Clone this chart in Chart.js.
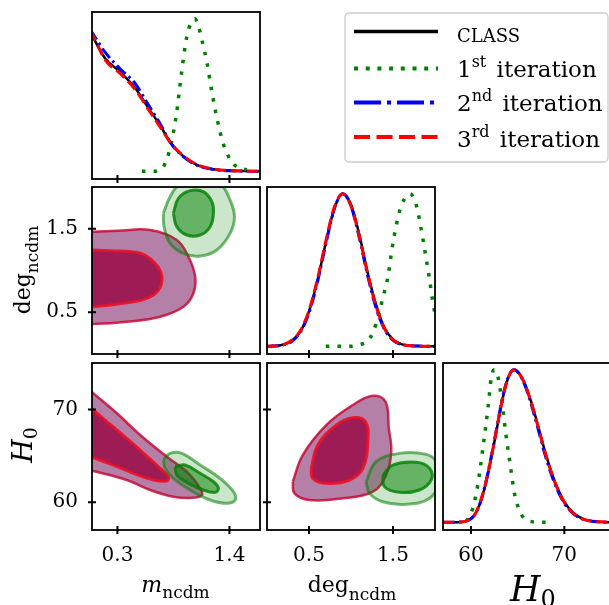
<!DOCTYPE html>
<html>
<head>
<meta charset="utf-8">
<script src="https://cdn.jsdelivr.net/npm/chart.js@4/dist/chart.umd.min.js"></script>
<style>
body { margin: 0; background: #fff; }
#fig { position: relative; width: 609px; height: 605px; overflow: hidden; background: #fff; }
#fig canvas { position: absolute; }
#fig svg { position: absolute; left: 0; top: 0; pointer-events: none; }
</style>
</head>
<body>
<div id="fig">
<svg width="609" height="605" font-family="DejaVu Serif" fill="#000">
  <!-- axis titles -->
  <text x="175.5" y="591.5" text-anchor="middle" font-size="22"><tspan font-style="italic">m</tspan><tspan font-size="17" dy="6">ncdm</tspan></text>
  <text x="352" y="591.5" text-anchor="middle" font-size="22">deg<tspan font-size="17" dy="8">ncdm</tspan></text>
  <text x="510" y="601" font-size="35"><tspan font-style="italic">H</tspan><tspan font-size="24" dy="6">0</tspan></text>
  <text transform="translate(30,270) rotate(-90)" text-anchor="middle" font-size="22">deg<tspan font-size="17" dy="8">ncdm</tspan></text>
  <text transform="translate(32,445) rotate(-90)" text-anchor="middle" font-size="27"><tspan font-style="italic">H</tspan><tspan font-size="19" dy="5">0</tspan></text>
  <!-- legend -->
  <rect x="345" y="13" width="263" height="149" rx="4" fill="#fff" stroke="#ccc" stroke-width="1.3"/>
  <line x1="354" y1="31.5" x2="438" y2="31.5" stroke="#000" stroke-width="3.5"/>
  <line x1="354" y1="68.5" x2="438" y2="68.5" stroke="#008000" stroke-width="4" stroke-dasharray="4 7.7"/>
  <line x1="354" y1="102.5" x2="438" y2="102.5" stroke="#0000ff" stroke-width="4" stroke-dasharray="27 6 4 6"/>
  <line x1="354" y1="137" x2="438" y2="137" stroke="#ff0000" stroke-width="4" stroke-dasharray="16 6.5"/>
  <text x="457" y="41.5" font-size="18">CLASS</text>
  <text x="457" y="76.5" font-size="23">1<tspan font-size="16" dy="-10">st</tspan><tspan dy="10" dx="3"> iteration</tspan></text>
  <text x="457" y="110.5" font-size="23">2<tspan font-size="16" dy="-10">nd</tspan><tspan dy="10" dx="3"> iteration</tspan></text>
  <text x="457" y="146.5" font-size="23">3<tspan font-size="16" dy="-10">rd</tspan><tspan dy="10" dx="3"> iteration</tspan></text>
</svg>
</div>
<script>
// ---- 1D posteriors (peak normalised to 1) ----
const mGrid  = [0.03, 0.06, 0.18, 0.33, 0.47, 0.60, 0.72, 0.83, 0.95, 1.08, 1.24, 1.41, 1.72];
const mClass = [0.92, 0.88, 0.74, 0.65, 0.55, 0.42, 0.30, 0.18, 0.097, 0.042, 0.014, 0.005, 0];
const mIter2 = [0.93, 0.90, 0.78, 0.67, 0.58, 0.44, 0.31, 0.18, 0.095, 0.040, 0.013, 0.004, 0];
const mIter3 = [0.92, 0.89, 0.73, 0.64, 0.54, 0.41, 0.29, 0.18, 0.10, 0.045, 0.015, 0.005, 0];
const mGrid1 = [0.54, 0.65, 0.75, 0.82, 0.88, 0.93, 0.98, 1.02, 1.06, 1.10, 1.13, 1.18, 1.23, 1.28, 1.34, 1.41, 1.47, 1.57];
const mIter1 = [0, 0, 0.03, 0.16, 0.38, 0.65, 0.88, 0.97, 1.0, 0.94, 0.86, 0.71, 0.51, 0.34, 0.18, 0.075, 0.03, 0.01];

const degGrid  = [0, 0.2, 0.3, 0.4, 0.5, 0.6, 0.7, 0.8, 0.9, 1.0, 1.1, 1.2, 1.3, 1.4, 1.5, 1.6, 1.8, 2.0];
const degClass = [0, 0.012, 0.04, 0.10, 0.23, 0.43, 0.68, 0.90, 1.0, 0.93, 0.73, 0.48, 0.27, 0.12, 0.045, 0.015, 0.002, 0];
const degIter2 = [0, 0.010, 0.035, 0.095, 0.22, 0.42, 0.67, 0.90, 1.0, 0.92, 0.71, 0.46, 0.25, 0.11, 0.040, 0.013, 0.002, 0];
const degIter3 = [0, 0.012, 0.042, 0.105, 0.235, 0.44, 0.69, 0.91, 1.0, 0.92, 0.72, 0.47, 0.26, 0.115, 0.043, 0.014, 0.002, 0];
const degGrid1 = [0.70, 0.98, 1.10, 1.22, 1.30, 1.38, 1.44, 1.50, 1.58, 1.64, 1.705, 1.78, 1.835, 1.875, 1.935, 1.98, 2.05];
const degIter1 = [0, 0, 0.01, 0.05, 0.15, 0.32, 0.46, 0.68, 0.89, 0.97, 1.0, 0.92, 0.77, 0.64, 0.44, 0.27, 0.12];

const hGrid  = [57, 59, 60, 60.5, 61, 61.5, 62, 62.5, 63, 63.5, 64, 64.6, 65.2, 65.8, 66.5, 67.2, 68, 69, 70, 71, 72, 73, 75];
const hClass = [0, 0.003, 0.025, 0.06, 0.13, 0.235, 0.37, 0.525, 0.69, 0.84, 0.95, 1.0, 0.975, 0.906, 0.78, 0.63, 0.45, 0.265, 0.135, 0.06, 0.023, 0.008, 0];
const hIter2 = [0, 0.003, 0.024, 0.058, 0.13, 0.24, 0.38, 0.535, 0.70, 0.85, 0.955, 1.0, 0.97, 0.895, 0.765, 0.61, 0.43, 0.25, 0.125, 0.055, 0.02, 0.007, 0];
const hIter3 = [0, 0.003, 0.026, 0.062, 0.135, 0.24, 0.375, 0.53, 0.695, 0.845, 0.952, 1.0, 0.972, 0.90, 0.775, 0.625, 0.445, 0.26, 0.13, 0.058, 0.022, 0.008, 0];
const hGrid1 = [59.5, 60.2, 60.74, 61.28, 61.82, 62.18, 62.5, 62.72, 63.26, 63.69, 64.15, 64.69, 65.41, 66.48, 68.27];
const hIter1 = [0.005, 0.095, 0.25, 0.49, 0.75, 0.95, 1.0, 0.99, 0.82, 0.60, 0.40, 0.18, 0.05, 0.005, 0];

// ---- 2D contours [x, y], 68% (inner) and 95% (outer) ----
const mDegOuter = [[-0.1,1.46],[0.064,1.465],[0.3,1.475],[0.621,1.485],[0.883,1.365],[0.997,1.165],[1.063,0.926],[1.046,0.727],[0.948,0.566],[0.719,0.447],[0.392,0.387],[0.064,0.359],[-0.1,0.35],[-0.1,1.46]];
const mDegInner = [[-0.1,1.25],[0.064,1.245],[0.228,1.237],[0.523,1.206],[0.670,1.086],[0.736,0.926],[0.703,0.766],[0.588,0.667],[0.359,0.607],[0.064,0.567],[-0.1,0.56],[-0.1,1.25]];
const mDegOuter1 = [[0.751,1.685],[0.817,1.884],[0.915,2.04],[1.10,2.12],[1.308,2.04],[1.406,1.844],[1.449,1.644],[1.406,1.445],[1.276,1.246],[1.112,1.174],[0.948,1.206],[0.817,1.326],[0.758,1.525],[0.751,1.685]];
const mDegInner1 = [[0.849,1.685],[0.899,1.865],[1.014,1.956],[1.144,1.944],[1.227,1.824],[1.243,1.685],[1.210,1.525],[1.112,1.425],[0.981,1.425],[0.883,1.525],[0.849,1.685]];

const mHOuter = [[-0.1,73.3],[0.064,71.73],[0.294,69.58],[0.523,67.24],[0.785,64.9],[0.981,63.28],[1.112,61.49],[1.129,60.77],[1.046,60.48],[0.850,60.59],[0.621,61.31],[0.392,62.39],[0.064,63.36],[-0.1,63.8],[-0.1,73.3]];
const mHInner = [[-0.1,71.5],[0.064,69.93],[0.294,67.78],[0.523,65.62],[0.719,63.65],[0.80,62.74],[0.785,62.28],[0.653,62.39],[0.457,63.11],[0.260,64.0],[0.064,64.79],[-0.1,65.4],[-0.1,71.5]];
const mHOuter1 = [[0.751,64.54],[0.817,65.26],[0.932,65.26],[1.112,64.0],[1.308,62.57],[1.439,61.13],[1.456,60.23],[1.374,59.88],[1.210,60.23],[1.014,61.31],[0.850,62.57],[0.768,63.65],[0.751,64.54]];
const mHInner1 = [[0.866,63.82],[0.964,64.0],[1.112,63.11],[1.243,62.2],[1.292,61.49],[1.260,61.06],[1.144,61.31],[0.997,62.03],[0.883,62.93],[0.866,63.82]];

const degHOuter = [[0.307,62.2],[0.426,65.08],[0.705,68.31],[1.021,70.47],[1.26,71.47],[1.411,70.83],[1.45,67.96],[1.479,65.44],[1.419,62.93],[1.26,61.13],[0.902,60.42],[0.506,60.23],[0.327,60.95],[0.307,62.2]];
const degHInner = [[0.526,63.65],[0.605,66.16],[0.824,68.31],[1.021,69.1],[1.173,68.67],[1.2,66.51],[1.141,63.65],[0.982,62.39],[0.705,62.03],[0.545,62.57],[0.526,63.65]];
const degHOuter1 = [[1.18,62.2],[1.30,64.36],[1.577,65.26],[1.895,65.15],[2.014,64.36],[2.05,62.2],[1.935,60.42],[1.657,59.77],[1.379,60.05],[1.22,60.95],[1.18,62.2]];
const degHInner1 = [[1.379,62.93],[1.498,64.0],[1.776,64.29],[1.935,63.65],[1.955,62.39],[1.815,61.31],[1.577,61.06],[1.399,61.67],[1.379,62.93]];

// ---- axes ----
const mRange = [0.05, 1.70], degRange = [0, 2], hRange = [57, 75], pRange = [-0.05, 1.045];
const mTicks = [0.3, 1.4], degTicks = [0.5, 1.5], hTicks = [60, 70];

Chart.defaults.font.family = 'DejaVu Serif';
Chart.defaults.color = '#000';

const COLS = [92, 267, 443], ROWS = [12, 187, 363], PW = 168, PH = 167, PAD = 70;

// frame round each panel plus in-out tick marks
const frame = {
    id: 'frame',
    afterDraw(chart, args, o) {
        const {ctx, chartArea: a, scales} = chart;
        ctx.save();
        ctx.strokeStyle = '#000';
        ctx.lineWidth = 1.8;
        ctx.strokeRect(a.left, a.top, a.width, a.height);
        ctx.lineWidth = 2;
        ctx.beginPath();
        for (const t of scales.x.ticks) {
            const p = scales.x.getPixelForValue(t.value);
            ctx.moveTo(p, a.bottom - 4); ctx.lineTo(p, a.bottom + 4);
        }
        if (o.yTicks) {
            for (const t of scales.y.ticks) {
                const p = scales.y.getPixelForValue(t.value);
                ctx.moveTo(a.left - 4, p); ctx.lineTo(a.left + 4, p);
            }
        }
        ctx.stroke();
        ctx.restore();
    }
};

function curve(xs, ys, color, width, dash) {
    return {
        data: xs.map((x, i) => ({x: x, y: ys[i]})),
        borderColor: color, borderWidth: width, borderDash: dash || [],
        pointRadius: 0, fill: false, cubicInterpolationMode: 'monotone', clip: 0
    };
}

function region(pts, fillColor, lineColor, width) {
    return {
        data: pts.map(p => ({x: p[0], y: p[1]})),
        backgroundColor: fillColor, borderColor: lineColor, borderWidth: width,
        pointRadius: 0, fill: 'shape', tension: 0.4, clip: 0
    };
}

function axis(range, ticks, size, showLabels) {
    return {
        type: 'linear', min: range[0], max: range[1],
        afterBuildTicks: s => { s.ticks = ticks.map(v => ({value: v})); },
        afterFit: s => { if (s.isHorizontal()) s.height = PAD; else s.width = PAD; },
        grid: {display: false, drawTicks: false},
        border: {display: false},
        ticks: {display: showLabels, padding: size, color: '#000', font: {size: 20},
                maxRotation: 0, autoSkip: false, callback: v => String(v)}
    };
}

function panel(col, row, xAxis, yAxis, yTickMarks, layers) {
    const cv = document.createElement('canvas');
    cv.width = PW + 2 * PAD;
    cv.height = PH + 2 * PAD;
    cv.style.left = (COLS[col] - PAD) + 'px';
    cv.style.top = (ROWS[row] - PAD) + 'px';
    document.getElementById('fig').insertBefore(cv, document.querySelector('#fig svg'));
    new Chart(cv, {
        type: 'line',
        data: {datasets: layers.slice().reverse()},
        options: {
            responsive: false, animation: false,
            layout: {padding: {top: PAD, right: PAD, left: 0, bottom: 0}},
            plugins: {legend: {display: false}, tooltip: {enabled: false}, frame: {yTicks: yTickMarks}},
            scales: {x: xAxis, y: yAxis}
        },
        plugins: [frame]
    });
}

function oneD(grid, cls, g1, i1, i2, i3) {
    return [
        curve(grid, cls, '#000', 2.5),
        curve(g1, i1, '#008000', 3.5, [3.5, 8.2]),
        curve(grid, i2, '#0000ff', 3, [12, 4, 2.5, 4]),
        curve(grid, i3, '#ff0000', 3, [11, 5])
    ];
}

function twoD(outer, inner, outer1, inner1) {
    return [
        region(outer, 'rgb(181,128,168)', 'rgba(200,0,45,0.8)', 2.5),
        region(inner, 'rgb(157,28,86)', 'rgba(235,15,40,0.9)', 3),
        region(outer1, 'rgba(0,128,0,0.2)', 'rgba(0,128,0,0.55)', 3),
        region(inner1, 'rgba(0,128,0,0.5)', 'rgba(0,128,0,0.8)', 3)
    ];
}

const noY = axis(pRange, [], 14, false);

panel(0, 0, axis(mRange, mTicks, 14, false), noY, false,
      oneD(mGrid, mClass, mGrid1, mIter1, mIter2, mIter3));
panel(0, 1, axis(mRange, mTicks, 14, false), axis(degRange, degTicks, 14, true), true,
      twoD(mDegOuter, mDegInner, mDegOuter1, mDegInner1));
panel(1, 1, axis(degRange, degTicks, 14, false), axis(pRange, [], 14, false), false,
      oneD(degGrid, degClass, degGrid1, degIter1, degIter2, degIter3));
panel(0, 2, axis(mRange, mTicks, 14, true), axis(hRange, hTicks, 14, true), true,
      twoD(mHOuter, mHInner, mHOuter1, mHInner1));
panel(1, 2, axis(degRange, degTicks, 14, true), axis(hRange, hTicks, 14, false), true,
      twoD(degHOuter, degHInner, degHOuter1, degHInner1));
panel(2, 2, axis(hRange, hTicks, 14, true), axis(pRange, [], 14, false), false,
      oneD(hGrid, hClass, hGrid1, hIter1, hIter2, hIter3));
</script>
</body>
</html>
